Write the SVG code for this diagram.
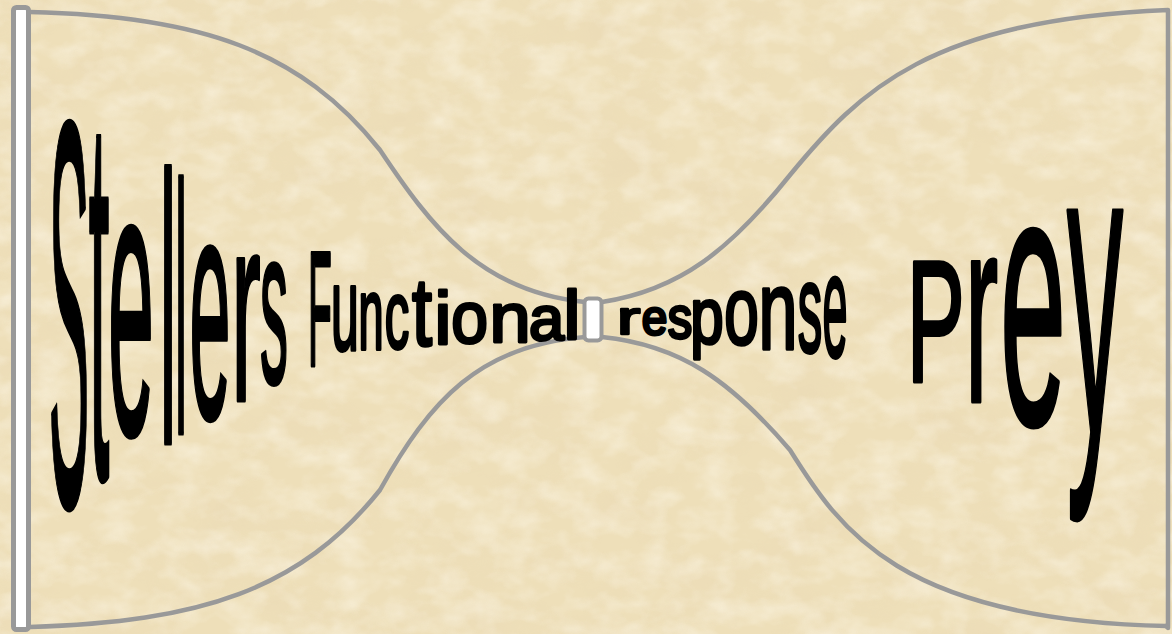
<svg xmlns="http://www.w3.org/2000/svg" width="1172" height="634" viewBox="0 0 1172 634">
<style>
.ln{fill:none;stroke:#999999;stroke-width:4.5;stroke-linejoin:round;stroke-linecap:round}
.box{fill:#ffffff;stroke:#999999}
.w{font-family:"Liberation Sans",Arial,sans-serif;font-size:100px;fill:#000;stroke:#000;stroke-width:3px;vector-effect:non-scaling-stroke;stroke-linejoin:round;text-anchor:middle}
</style>
<defs>
<filter id="dark" filterUnits="userSpaceOnUse" x="0" y="0" width="1172" height="634">
<feTurbulence type="fractalNoise" baseFrequency="0.012 0.02" numOctaves="4" seed="7"/>
<feColorMatrix type="matrix" values="0 0 0 0 0.78  0 0 0 0 0.64  0 0 0 0 0.44  1.1 0 0 0 -0.5"/>
</filter>
<filter id="light" filterUnits="userSpaceOnUse" x="0" y="0" width="1172" height="634">
<feTurbulence type="fractalNoise" baseFrequency="0.03 0.045" numOctaves="3" seed="21"/>
<feColorMatrix type="matrix" values="0 0 0 0 0.99  0 0 0 0 0.95  0 0 0 0 0.84  0 1.3 0 0 -0.5"/>
</filter>
</defs>
<g id="background">
<rect x="0" y="0" width="1172" height="634" fill="#eedfb9"/>
<rect x="0" y="0" width="1172" height="634" filter="url(#dark)" opacity="0.5"/>
<rect x="0" y="0" width="1172" height="634" filter="url(#light)" opacity="0.75"/>
</g>
<g id="connectors">
<path class="ln" d="M 30 12 C 200 16, 300 50, 380 150 C 430 225, 480 292, 585 302"/>
<path class="ln" d="M 602 302 C 680 290, 730 250, 790 175 C 860 90, 930 20, 1168 10 L 1168 628 L 1166 626"/>
<path class="ln" d="M 30 627 C 200 622, 300 590, 380 490 C 430 400, 480 345, 585 337"/>
<path class="ln" d="M 602 337 C 680 345, 730 380, 790 450 C 840 530, 900 620, 1166 626"/>
</g>
<g id="bar">
<rect class="box" x="13.5" y="7.5" width="15" height="622" rx="3" stroke-width="5"/>
</g>
<g id="knot">
<rect class="box" x="584.5" y="298.5" width="17" height="42" rx="4" stroke-width="4"/>
</g>
<g id="stellers">
<text class="w" transform="translate(69,505) scale(0.61,5.5)">S</text>
<text class="w" transform="translate(99,478) scale(0.76,5.29)">t</text>
<text class="w" transform="translate(131,434) scale(0.83,3.87)">e</text>
<text class="w" transform="translate(168,443.5) scale(0.78,3.83)">l</text>
<text class="w" transform="translate(181,433.5) scale(0.56,3.55)">l</text>
<text class="w" transform="translate(210,418) scale(0.74,3.19)">e</text>
<text class="w" transform="translate(246,400.5) scale(0.89,2.68)">r</text>
<text class="w" transform="translate(274,383) scale(0.56,2.23)">s</text>
</g>
<g id="functional">
<text class="w" transform="translate(320,365.5) scale(0.39,1.63)">F</text>
<text class="w" transform="translate(345,350) scale(0.5,1.19)">u</text>
<text class="w" transform="translate(371,348.5) scale(0.45,1.02)">n</text>
<text class="w" transform="translate(397,347.5) scale(0.49,0.96)">c</text>
<text class="w" transform="translate(422,345) scale(0.72,0.96)">t</text>
<text class="w" transform="translate(443,343.5) scale(0.78,0.74)">i</text>
<text class="w" transform="translate(469.5,342.6) scale(0.66,0.74)">o</text>
<text class="w" transform="translate(510,341.5) scale(0.74,0.7)">n</text>
<text class="w" transform="translate(546.5,339.7) scale(0.63,0.63)">a</text>
<text class="w" transform="translate(572,338.5) scale(0.78,0.69)">l</text>
</g>
<g id="response">
<text class="w" transform="translate(628.6,333.5) scale(0.7,0.47)">r</text>
<text class="w" transform="translate(654.5,335) scale(0.46,0.5)">e</text>
<text class="w" transform="translate(680,337.8) scale(0.49,0.59)">s</text>
<text class="w" transform="translate(707,343) scale(0.6,0.78)">p</text>
<text class="w" transform="translate(741.5,344.4) scale(0.62,0.96)">o</text>
<text class="w" transform="translate(778,348.5) scale(0.7,1.13)">n</text>
<text class="w" transform="translate(810,352) scale(0.49,1.27)">s</text>
<text class="w" transform="translate(835,356.8) scale(0.45,1.46)">e</text>
</g>
<g id="prey">
<text class="w" transform="translate(935.7,380.5) scale(0.87,1.73)">P</text>
<text class="w" transform="translate(981.6,401.5) scale(1.0,2.64)">r</text>
<text class="w" transform="translate(1033,424) scale(1.19,3.63)">e</text>
<text class="w" transform="translate(1095,433) scale(1.13,4.21)">y</text>
</g>
</svg>
